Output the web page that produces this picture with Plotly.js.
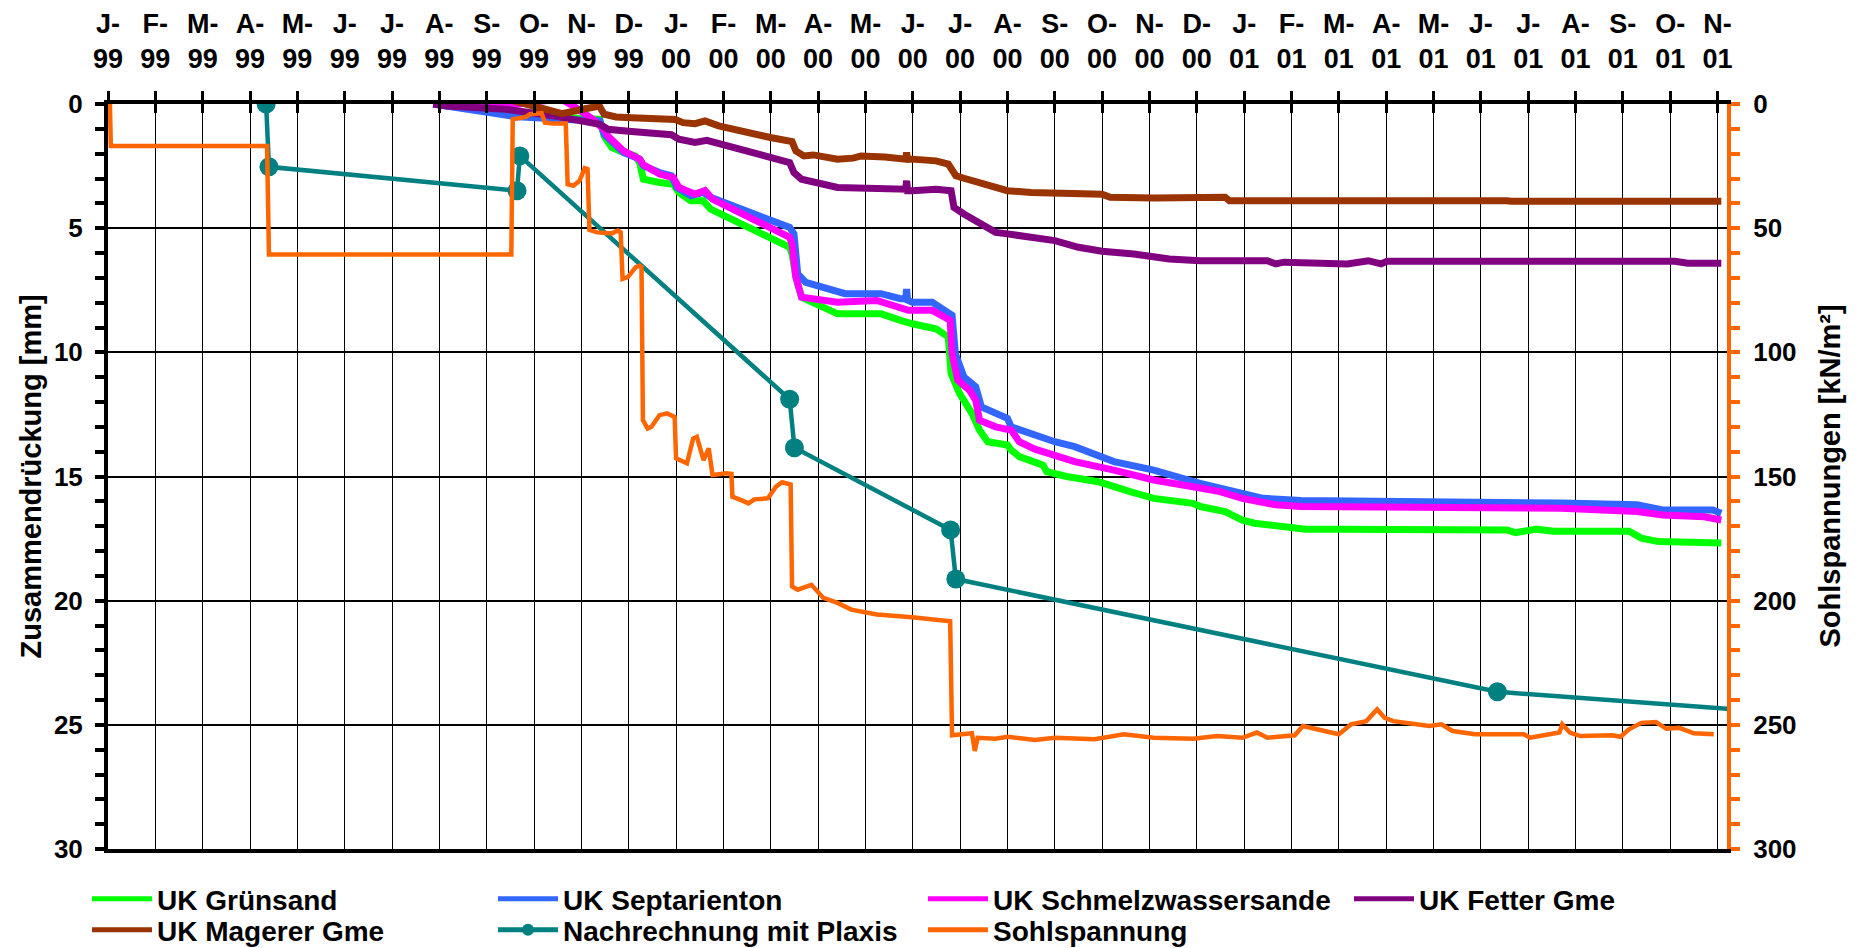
<!DOCTYPE html>
<html>
<head>
<meta charset="utf-8">
<script src="https://cdn.plot.ly/plotly-3.0.1.min.js"></script>
<style>
  html, body { margin: 0; padding: 0; background: #ffffff; }
  #chart { width: 1859px; height: 948px; }
</style>
</head>
<body>
<div id="chart"></div>
<script>
// x values are months counted from January 1999 (0 = J-99, 12 = J-00, 24 = J-01)
const monthTickVals = [0,1,2,3,4,5,6,7,8,9,10,11,12,13,14,15,16,17,18,19,20,21,22,23,24,25,26,27,28,29,30,31,32,33,34];
const monthTickText = [
  'J-<br>99','F-<br>99','M-<br>99','A-<br>99','M-<br>99','J-<br>99','J-<br>99','A-<br>99','S-<br>99','O-<br>99','N-<br>99','D-<br>99',
  'J-<br>00','F-<br>00','M-<br>00','A-<br>00','M-<br>00','J-<br>00','J-<br>00','A-<br>00','S-<br>00','O-<br>00','N-<br>00','D-<br>00',
  'J-<br>01','F-<br>01','M-<br>01','A-<br>01','M-<br>01','J-<br>01','J-<br>01','A-<br>01','S-<br>01','O-<br>01','N-<br>01'
];
const leftAxisTitle = 'Zusammendrückung [mm]';
const rightAxisTitle = 'Sohlspannungen [kN/m²]';

// UK Grünsand [mm]
const gruenX = [6.87,8.5,9.7,10.39,10.48,10.64,10.89,11.14,11.23,11.31,11.65,11.94,12.06,12.31,12.57,12.73,14.40,14.45,14.53,14.65,15.41,16.33,16.74,16.99,17.49,17.75,17.81,17.99,18.25,18.41,18.58,19.0,19.08,19.25,19.75,19.83,20.25,20.92,21.59,22.09,22.92,23.07,23.6,23.95,24.22,24.67,25.29,26.0,29.55,29.73,30.17,30.53,32.13,32.39,32.75,34.08];
const gruenY = [0,0.4,0.55,0.62,1.29,1.75,1.95,2.09,2.36,3.03,3.16,3.23,3.56,3.9,3.9,4.23,5.77,6.04,6.97,7.78,8.45,8.45,8.71,8.85,9.05,9.38,10.86,11.66,12.46,13.13,13.6,13.73,13.94,14.2,14.54,14.81,15.0,15.21,15.61,15.88,16.08,16.21,16.41,16.75,16.88,16.99,17.12,17.12,17.15,17.26,17.12,17.2,17.2,17.48,17.62,17.68];

// UK Septarienton [mm]
const septX = [6.87,8.58,9.67,10.39,10.48,10.73,10.89,11.23,11.31,11.65,11.9,12.02,12.31,12.57,12.73,14.4,14.49,14.57,14.74,15.57,16.33,16.74,16.85,16.87,16.89,16.99,17.41,17.83,17.90,18.08,18.33,18.45,18.75,19.0,19.08,19.58,20.0,20.42,20.84,21.25,22.09,22.76,23.07,23.96,24.4,25.2,27.51,30.7,32.3,32.84,33.9,34.08];
const septY = [0,0.5,0.62,0.68,1.22,1.69,1.95,2.22,2.49,2.76,2.89,3.36,3.69,3.56,3.76,4.97,5.23,6.84,7.18,7.64,7.64,7.84,7.84,7.45,7.9,7.98,7.98,8.51,10.05,10.99,11.39,12.2,12.46,12.66,13.0,13.33,13.6,13.8,14.14,14.4,14.74,15.14,15.28,15.68,15.88,15.97,16.0,16.07,16.14,16.35,16.35,16.48];

// UK Schmelzwassersande [mm]
const schmX = [6.87,8.41,8.99,9.58,9.83,10.25,10.50,10.56,10.89,11.23,11.31,11.65,11.94,12.06,12.4,12.61,12.77,14.4,14.45,14.53,14.65,15.41,16.24,16.74,16.91,17.41,17.79,17.83,17.95,18.2,18.33,18.41,18.75,19.08,19.25,19.58,20.42,21.25,22.09,22.92,23.49,23.96,24.67,25.2,29.28,30.7,32.3,32.84,33.72,34.08];
const schmY = [0,0.08,-0.09,-0.19,0.08,0.62,1.08,1.29,1.89,2.22,2.45,2.82,2.96,3.36,3.63,3.49,3.83,5.37,5.64,6.97,7.78,7.98,7.91,8.18,8.31,8.31,8.71,10.05,11.12,11.53,11.93,12.73,13.0,13.13,13.6,13.9,14.4,14.74,15.14,15.41,15.61,15.88,16.14,16.21,16.21,16.28,16.41,16.55,16.62,16.75];

// UK Fetter Gme [mm]
const fetterX = [6.87,7.16,8.41,9.42,10.39,10.56,11.06,11.4,11.9,12.06,12.4,12.65,12.98,14.4,14.49,14.65,15.41,16.41,16.74,16.85,16.87,16.89,16.99,17.49,17.81,17.87,18.08,18.41,18.75,19.0,19.58,20.0,20.5,21.0,21.67,22.42,23.07,24.49,24.67,24.84,26.18,26.62,26.89,27.02,33.1,33.37,34.08];
const fetterY = [0,0.08,0.21,0.48,0.82,1.02,1.11,1.15,1.24,1.42,1.55,1.46,1.62,2.36,2.76,3.03,3.36,3.36,3.43,3.43,3.09,3.49,3.49,3.43,3.49,4.16,4.43,4.77,5.17,5.23,5.37,5.5,5.77,5.93,6.04,6.24,6.31,6.31,6.44,6.37,6.44,6.31,6.44,6.33,6.33,6.41,6.41];

// UK Magerer Gme [mm]
const magerX = [7.12,8.41,8.99,9.59,10.08,10.38,10.48,10.73,11.06,11.65,11.98,12.15,12.4,12.61,12.9,13.99,14.45,14.53,14.7,14.9,15.41,15.74,15.91,16.41,16.74,16.85,16.87,16.89,16.99,17.49,17.75,17.91,18.08,18.41,18.75,19.0,19.5,20.0,21.0,21.17,22.09,23.6,23.69,29.55,29.64,34.08];
const magerY = [-0.2,-0.2,0.08,0.39,0.19,0.08,0.41,0.52,0.55,0.58,0.62,0.75,0.79,0.68,0.88,1.35,1.51,1.89,2.09,2.05,2.22,2.18,2.09,2.13,2.22,2.22,1.95,2.22,2.22,2.29,2.42,2.89,2.99,3.16,3.36,3.49,3.56,3.6,3.63,3.76,3.79,3.76,3.9,3.9,3.92,3.92];

// Nachrechnung mit Plaxis [mm]
const plaxisX = [3.34,3.40,8.64,8.70,14.40,14.50,17.80,17.91,29.35,34.4];
const plaxisY = [0,2.53,3.49,2.09,11.89,13.84,17.15,19.13,23.67,24.38];

// Sohlspannung [kN/m²] (right axis)
const sohlX = [0.04,0.06,3.36,3.40,8.52,8.55,8.66,8.83,8.91,9.08,9.16,9.23,9.42,9.67,9.71,9.83,9.96,10.07,10.13,10.17,10.33,10.64,10.77,10.83,10.87,10.98,11.15,11.23,11.27,11.30,11.40,11.48,11.65,11.81,11.97,12.0,12.23,12.36,12.44,12.58,12.69,12.77,13.07,13.17,13.19,13.40,13.53,13.65,13.94,14.11,14.24,14.42,14.45,14.57,14.86,15.11,15.41,15.70,16.24,16.99,17.41,17.79,17.83,18.25,18.31,18.37,18.75,19.0,19.58,20.0,20.84,21.17,21.46,22.09,22.92,23.43,23.96,24.27,24.49,25.07,25.24,26.0,26.26,26.58,26.81,26.97,27.15,27.91,28.17,28.40,28.88,29.91,30.04,30.66,30.72,30.88,31.10,31.77,31.95,32.13,32.39,32.70,32.92,33.19,33.5,33.92];
const sohlY = [0,16.9,16.9,60.6,60.6,6.2,5.8,5.2,4.1,4.1,3.7,7.5,7.9,7.9,32.3,32.9,30.9,25.8,26.2,50.7,51.7,52.1,51,51.7,70.4,69.7,65.7,65.1,65.7,127.3,130.7,130,125.3,124.6,126,142.7,144.7,134.7,134,143.4,138.7,149.4,148.7,149,158.1,159.7,160.8,159.2,158.8,154.1,152.3,153.2,194.3,195.6,193.6,198.9,200.9,203.6,205.6,206.7,207.6,208.3,254.2,253.4,260.5,255.2,255.6,254.8,256.1,255.2,255.8,254.5,253.8,255.2,255.6,254.5,255.2,253.1,255.2,254.2,250.5,253.8,249.8,248.5,243.8,247.2,248.5,250.5,249.8,252.5,253.8,253.8,255.2,253.1,249.8,253.1,254.5,254.2,254.8,251.8,249.2,248.9,251.6,251.2,253.4,253.8];

const FONT = 'Liberation Sans, Arial, Helvetica, sans-serif';
const W = 1859, H = 948;
const ML = 108, MR = 132, MT = 104, MB = 99;
const PW = W - ML - MR, PH = H - MT - MB;

function lineTrace(name, x, y, color, width, legendId, extra) {
  return Object.assign({
    type: 'scatter', mode: 'lines', name: name, x: x, y: y,
    line: { color: color, width: width },
    legend: legendId, xaxis: 'x', yaxis: 'y'
  }, extra || {});
}

const traces = [
  lineTrace('UK Grünsand', gruenX, gruenY, '#00FF00', 7, 'legend'),
  lineTrace('UK Septarienton', septX, septY, '#3366FF', 7, 'legend2'),
  lineTrace('UK Schmelzwassersande', schmX, schmY, '#FF00FF', 7, 'legend3'),
  lineTrace('UK Fetter Gme', fetterX, fetterY, '#800080', 7, 'legend4'),
  lineTrace('UK Magerer Gme', magerX, magerY, '#993300', 7, 'legend5'),
  lineTrace('Nachrechnung mit Plaxis', plaxisX, plaxisY, '#008080', 4.5, 'legend6',
    { mode: 'lines+markers', marker: { color: '#008080', size: 19, symbol: 'circle' } }),
  lineTrace('Sohlspannung', sohlX, sohlY, '#FF6600', 4.5, 'legend7', { yaxis: 'y2' }),
  { type: 'scatter', x: [], y: [], xaxis: 'x2', yaxis: 'y', showlegend: false, hoverinfo: 'skip' }
];

function legendAt(px, py) {
  return {
    xref: 'container', yref: 'container',
    x: px / W, y: 1 - py / H, xanchor: 'left', yanchor: 'middle',
    orientation: 'v', bgcolor: 'rgba(0,0,0,0)', borderwidth: 0,
    itemwidth: 60, itemsizing: 'constant',
    font: { family: FONT, size: 28, color: '#000000', weight: 'bold' }
  };
}

const tickFont = { family: FONT, size: 26, color: '#000000', weight: 'bold' };
const xTickFont = { family: FONT, size: 27, color: '#000000', weight: 'bold' };
const titleFont = { family: FONT, size: 29, color: '#000000', weight: 'bold' };

const layout = {
  width: W, height: H,
  margin: { l: ML, r: MR, t: MT, b: MB, pad: 0, autoexpand: false },
  paper_bgcolor: '#ffffff', plot_bgcolor: '#ffffff',
  font: { family: FONT, color: '#000000' },
  showlegend: true,
  xaxis: {
    range: [0, 34.2], side: 'top', anchor: 'y', automargin: false,
    tickmode: 'array', tickvals: monthTickVals, ticktext: monthTickText,
    ticks: 'outside', ticklen: 9, tickwidth: 3, tickcolor: '#000000',
    ticklabelstandoff: 12,
    tickfont: xTickFont,
    showgrid: true, gridcolor: '#000000', gridwidth: 1,
    showline: true, linecolor: '#000000', linewidth: 4, mirror: true,
    zeroline: false, fixedrange: true
  },
  xaxis2: {
    range: [0, 34.2], side: 'top', anchor: 'y', overlaying: 'x', automargin: false,
    tickmode: 'array', tickvals: monthTickVals,
    ticks: 'inside', ticklen: 9, tickwidth: 3, tickcolor: '#000000',
    showticklabels: false, showgrid: false, showline: false, zeroline: false
  },
  yaxis: {
    range: [30, 0], anchor: 'x', automargin: false,
    tickmode: 'linear', tick0: 0, dtick: 5,
    ticks: 'outside', ticklen: 9, tickwidth: 4, tickcolor: '#000000',
    minor: { dtick: 1, ticks: 'outside', ticklen: 9, tickwidth: 4, tickcolor: '#000000', showgrid: false },
    ticklabelstandoff: 7,
    tickfont: tickFont,
    showgrid: true, gridcolor: '#000000', gridwidth: 2,
    showline: true, linecolor: '#000000', linewidth: 4,
    zeroline: false
  },
  yaxis2: {
    range: [300, 0], overlaying: 'y', side: 'right', anchor: 'x', automargin: false,
    tickmode: 'linear', tick0: 0, dtick: 50,
    ticks: 'outside', ticklen: 9, tickwidth: 4, tickcolor: '#FF6600',
    minor: { dtick: 10, ticks: 'outside', ticklen: 9, tickwidth: 4, tickcolor: '#FF6600', showgrid: false },
    ticklabelstandoff: 8,
    tickfont: tickFont,
    showgrid: false, showline: true, linecolor: '#FF6600', linewidth: 4,
    zeroline: false
  },
  annotations: [
    { xref: 'paper', yref: 'paper', x: (30 - ML) / PW, y: 0.5, xanchor: 'center', yanchor: 'middle',
      text: leftAxisTitle, textangle: -90, showarrow: false, font: titleFont },
    { xref: 'paper', yref: 'paper', x: (1829 - ML) / PW, y: 0.5, xanchor: 'center', yanchor: 'middle',
      text: rightAxisTitle, textangle: -90, showarrow: false, font: titleFont }
  ],
  legend:  legendAt(87, 899),
  legend2: legendAt(493, 899),
  legend3: legendAt(923, 899),
  legend4: legendAt(1349, 899),
  legend5: legendAt(87, 930),
  legend6: legendAt(493, 930),
  legend7: legendAt(923, 930)
};

Plotly.newPlot('chart', traces, layout, { displayModeBar: false, staticPlot: true });
</script>
</body>
</html>
